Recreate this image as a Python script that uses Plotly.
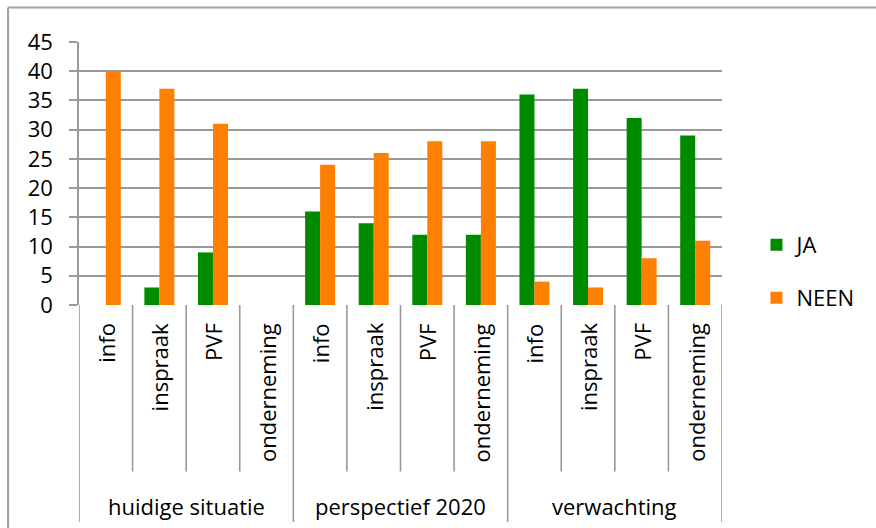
import plotly.graph_objects as go

groups = ["huidige situatie", "perspectief 2020", "verwachting"]
subcats = ["info", "inspraak", "PVF", "onderneming"]
ja = [0, 3, 9, 0, 16, 14, 12, 12, 36, 37, 32, 29]
neen = [40, 37, 31, 0, 24, 26, 28, 28, 4, 3, 8, 11]
y_ticks = [0, 5, 10, 15, 20, 25, 30, 35, 40, 45]

GREEN = "#008A00"
ORANGE = "#FF7F00"
GRID = "#999999"
FONT = "Open Sans"
FS = 22

W, H = 876, 528
L, R, T, B = 79, 722.5, 42, 305
pw, ph = R - L, B - T

def py(pix):
    return (B - pix) / ph

def px(pix):
    return (pix - L) / pw

n = len(groups) * len(subcats)
xs = list(range(n))

fig = go.Figure()
fig.add_trace(go.Bar(x=xs, y=ja, name="JA", marker=dict(color=GREEN, line=dict(width=0)), legend="legend"))
fig.add_trace(go.Bar(x=xs, y=neen, name="NEEN", marker=dict(color=ORANGE, line=dict(width=0)), legend="legend2"))

shapes = []
annotations = []
# subcategory separators
for i in range(n + 1):
    is_group = (i % len(subcats) == 0)
    shapes.append(dict(type="line", xref="x", yref="paper", x0=i - 0.5, x1=i - 0.5,
                       y0=0, y1=py(522 if is_group else 471.5),
                       line=dict(color=GRID, width=1.6)))
# inner labels
for gi, g in enumerate(groups):
    for si, s in enumerate(subcats):
        idx = gi * len(subcats) + si
        annotations.append(dict(xref="x", yref="paper", x=idx, y=py(321),
                                text=s, textangle=-90, showarrow=False,
                                xanchor="center", yanchor="top",
                                font=dict(family=FONT, size=FS, color="black")))
    annotations.append(dict(xref="x", yref="paper", x=gi * len(subcats) + (len(subcats) - 1) / 2,
                            y=py(506), text=g, showarrow=False,
                            xanchor="center", yanchor="middle",
                            font=dict(family=FONT, size=FS, color="black")))
# outer chart border (top and left)
shapes.append(dict(type="line", xref="paper", yref="paper", x0=px(8), x1=px(900),
                   y0=py(7.5), y1=py(7.5), line=dict(color="#a0a0a0", width=2)))
shapes.append(dict(type="line", xref="paper", yref="paper", x0=px(8), x1=px(8),
                   y0=py(7.5), y1=py(560), line=dict(color="#a0a0a0", width=2)))

fig.update_layout(
    width=W, height=H,
    margin=dict(l=L, r=W - R, t=T, b=H - B, pad=0),
    paper_bgcolor="white", plot_bgcolor="white",
    barmode="group", bargap=0.44, bargroupgap=0,
    font=dict(family=FONT, size=FS, color="black"),
    xaxis=dict(range=[-0.5, n - 0.5], showticklabels=False, showgrid=False,
               zeroline=False, showline=False, ticks=""),
    yaxis=dict(range=[0, 45], tickvals=y_ticks, showgrid=True, gridcolor=GRID, gridwidth=1.6,
               zeroline=False, showline=True, linecolor=GRID, linewidth=1.6,
               ticks="outside", ticklen=8, tickcolor=GRID, tickwidth=1.6,
               ticklabelstandoff=12, tickfont=dict(family=FONT, size=FS, color="black")),
    legend=dict(x=px(757), y=py(245), xanchor="left", yanchor="middle",
                font=dict(family=FONT, size=FS, color="black"), bgcolor="rgba(0,0,0,0)"),
    legend2=dict(x=px(757), y=py(298), xanchor="left", yanchor="middle",
                 font=dict(family=FONT, size=FS, color="black"), bgcolor="rgba(0,0,0,0)"),
    shapes=shapes, annotations=annotations,
    showlegend=True,
)

fig.write_html("out.html")
